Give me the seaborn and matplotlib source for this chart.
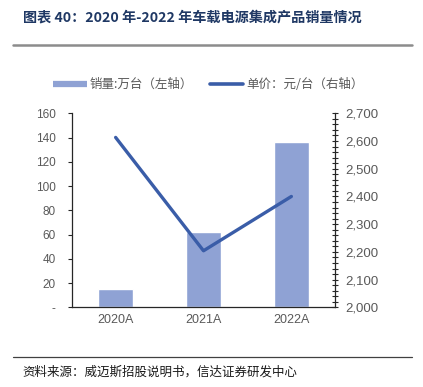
import matplotlib
matplotlib.use("Agg")
import matplotlib.pyplot as plt
from matplotlib.lines import Line2D
from matplotlib.ticker import FixedLocator, MultipleLocator, FuncFormatter
import seaborn as sns
import pandas as pd

categories = ["2020A", "2021A", "2022A"]
sales = [15, 62, 136]          # 销量:万台（左轴）
price = [2613, 2204, 2400]     # 单价：元/台（右轴）
left_ticks = [0, 20, 40, 60, 80, 100, 120, 140, 160]
right_ticks = [2000, 2100, 2200, 2300, 2400, 2500, 2600, 2700]

title = "图表 40：2020 年-2022 年车载电源集成产品销量情况"
source = "资料来源：威迈斯招股说明书，信达证券研发中心"
bar_label = "销量:万台（左轴）"
line_label = "单价：元/台（右轴）"

sns.set_theme(style="white")
plt.rcParams["font.family"] = ["Liberation Sans", "Noto Sans CJK SC", "DejaVu Sans"]
cjk = ["Noto Sans CJK SC", "DejaVu Sans"]

bar_color = "#8FA2D4"
line_color = "#3A5DA8"
tick_color = "#595959"

df = pd.DataFrame({"cat": categories, "sales": sales, "price": price})

fig = plt.figure(figsize=(4.23, 3.87), dpi=100)
ax = fig.add_axes([0.1695, 0.2059, 0.6232, 0.5013])
sns.barplot(data=df, x="cat", y="sales", ax=ax, color=bar_color, width=0.4,
            saturation=1)
ax.set_xlim(-0.5, len(categories) - 0.5)
ax.set_ylim(left_ticks[0], left_ticks[-1])
ax.set_xlabel("")
ax.set_ylabel("")

ax2 = ax.twinx()
sns.lineplot(data=df, x="cat", y="price", ax=ax2, color=line_color,
             linewidth=2.4, solid_capstyle="round")
ax2.set_ylim(right_ticks[0], right_ticks[-1])
ax2.set_ylabel("")
ax2.set_xlim(-0.5, len(categories) - 0.5)

# left axis
ax.set_yticks(left_ticks)
ax.yaxis.set_major_formatter(FuncFormatter(lambda v, p: "-" if v == 0 else f"{v:.0f}"))
ax.tick_params(axis="y", direction="out", length=3, width=0.8, color="#262626",
               labelsize=8.5, labelcolor=tick_color, pad=8.5)
# x axis
ax.set_xticks(range(len(categories)))
ax.set_xticklabels(categories)
ax.xaxis.set_minor_locator(FixedLocator([i - 0.5 for i in range(len(categories) + 1)]))
ax.tick_params(axis="x", which="major", length=0, labelsize=9, labelcolor=tick_color, pad=5)
ax.tick_params(axis="x", which="minor", direction="out", length=3, width=0.8, color="#262626")

# right axis
ax2.set_yticks(right_ticks)
ax2.yaxis.set_minor_locator(MultipleLocator(20))
ax2.yaxis.set_major_formatter(FuncFormatter(lambda v, p: f"{v:,.0f}"))
ax2.tick_params(axis="y", which="major", direction="inout", length=5, width=0.8,
                color="#262626", labelsize=9.5, labelcolor=tick_color, pad=5)
ax2.tick_params(axis="y", which="minor", direction="inout", length=4, width=0.8,
                color="#262626", right=True)

for a in (ax, ax2):
    a.spines["top"].set_visible(False)
    for s in ("left", "bottom", "right"):
        a.spines[s].set_color("#262626")
        a.spines[s].set_linewidth(0.9)
ax.spines["right"].set_visible(False)
ax2.spines["left"].set_visible(False)
ax2.spines["bottom"].set_visible(False)

# legend
handles = [
    Line2D([0], [0], color=bar_color, lw=4.5, solid_capstyle="butt"),
    Line2D([0], [0], color=line_color, lw=2.6, solid_capstyle="round"),
]
fig.legend(handles, [bar_label, line_label], loc="center", bbox_to_anchor=(0.493, 0.781),
           ncol=2, frameon=False, handlelength=2.7, handletextpad=0.25, columnspacing=1.3,
           prop={"family": cjk, "size": 9}, labelcolor=tick_color)

# title and decorations
fig.text(0.054, 0.955, title, ha="left", va="center", fontsize=10.2, fontweight="bold",
         color="#1F3864", family=cjk)
fig.add_artist(Line2D([13 / 423, 412 / 423], [1 - 44.5 / 387, 1 - 44.5 / 387],
                      color="#8C8C8C", lw=1.8, transform=fig.transFigure))
fig.add_artist(Line2D([13 / 423, 412 / 423], [1 - 357 / 387, 1 - 357 / 387],
                      color="#404040", lw=0.9, transform=fig.transFigure))
fig.text(0.054, 1 - 372 / 387, source, ha="left", va="center", fontsize=9,
         color="#1a1a1a", family=cjk, style="italic")

fig.savefig("out.png", dpi=100)
